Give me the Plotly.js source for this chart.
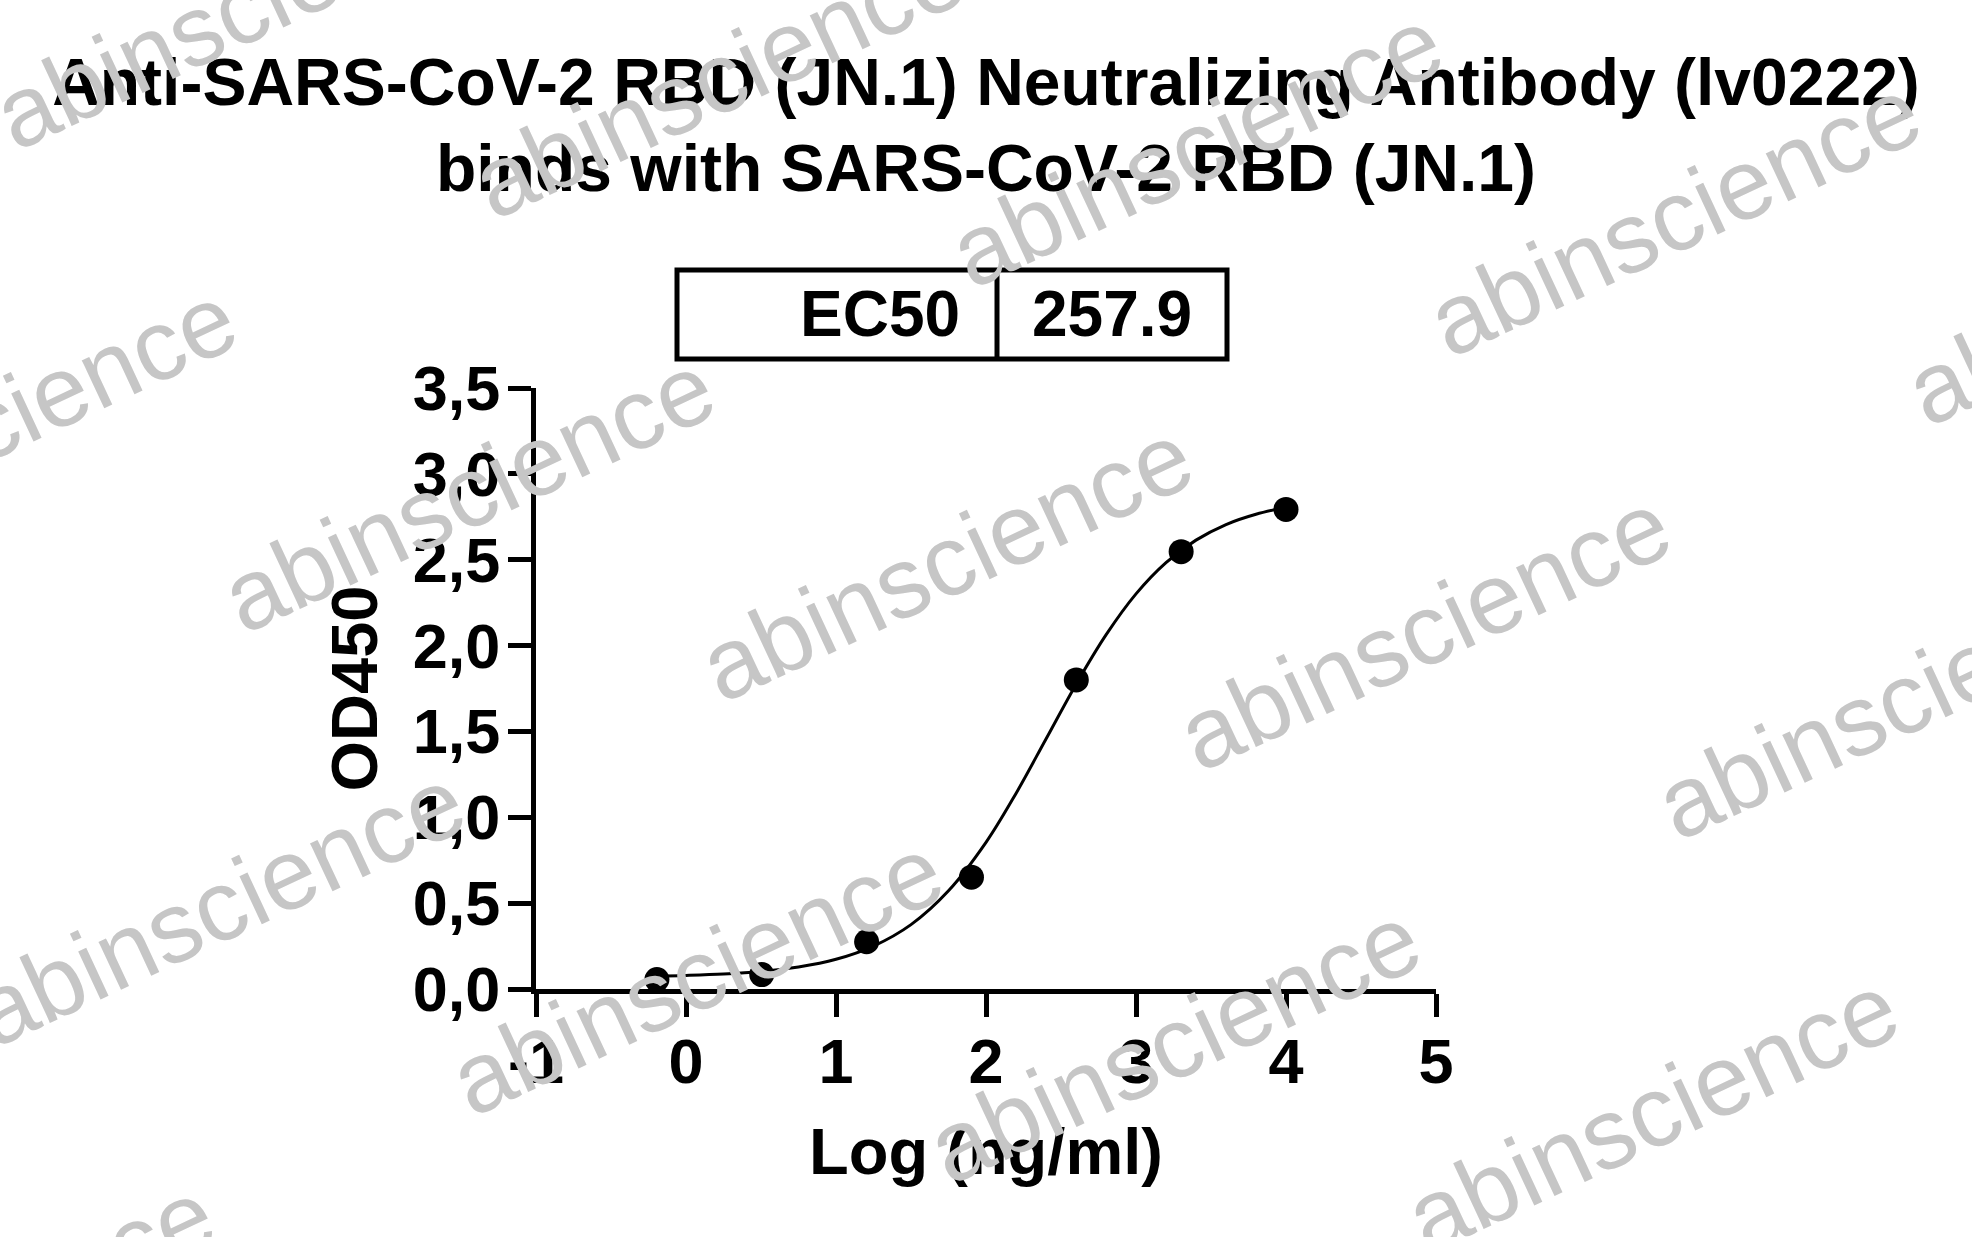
<!DOCTYPE html>
<html>
<head>
<meta charset="utf-8">
<script src="https://cdn.plot.ly/plotly-3.0.1.min.js"></script>
<style>html,body{margin:0;padding:0;background:#fff;}#chart{width:1972px;height:1237px;}</style>
</head>
<body>
<div id="chart"></div>
<script>
// ---- data ----
const logConc = [-0.194, 0.505, 1.204, 1.903, 2.602, 3.301, 4.0];
const od450 = [0.055, 0.084, 0.275, 0.651, 1.80, 2.547, 2.793];
const fitLogConc = [-0.2, 0, 0.25, 0.5, 0.75, 1.0, 1.25, 1.5, 1.75, 2.0, 2.2, 2.4, 2.6, 2.8, 3.0, 3.2, 3.4, 3.6, 3.8, 4.0];
const fitOd450 = [0.075, 0.079, 0.087, 0.102, 0.128, 0.173, 0.250, 0.375, 0.572, 0.854, 1.139, 1.456, 1.774, 2.062, 2.301, 2.483, 2.614, 2.705, 2.765, 2.805];
const xTickVals = [-1, 0, 1, 2, 3, 4, 5];
const xTickText = ["-1", "0", "1", "2", "3", "4", "5"];
const yTickVals = [0, 0.5, 1, 1.5, 2, 2.5, 3, 3.5];
const yTickText = ["0,0", "0,5", "1,0", "1,5", "2,0", "2,5", "3,0", "3,5"];
const ec50Label = "EC50";
const ec50Value = "257.9";
const chartTitle = "Anti-SARS-CoV-2 RBD (JN.1) Neutralizing Antibody (lv0222)<br>binds with SARS-CoV-2 RBD (JN.1)";
const watermarkText = "abinscience";

// ---- layout geometry (pixels) ----
const W = 1972, H = 1237;
const M = {l: 536, r: 536, t: 388, b: 247.5};
const plotW = W - M.l - M.r, plotH = H - M.t - M.b;
const px = x => (x - M.l) / plotW;
const py = y => (H - M.b - y) / plotH;

const FONT = 'Arial, "Liberation Sans", Helvetica, sans-serif';
const boldFont = (size) => ({family: FONT, size: size, color: '#000', weight: 'bold'});

// watermark lattice
const wmBase = [946, 561], wmU = [478, 69], wmV = [-250, 414];
const wmIdx = [[-2,0],[-1,0],[0,0],[1,0],[2,0],[-2,-1],[-1,-1],[0,-1],[1,-1],[2,-1],[-1,1],[0,1],[1,1],[2,1],[-1,2]];
const watermarks = wmIdx.map(([i, j]) => {
  const cx = wmBase[0] + i * wmU[0] + j * wmV[0];
  const cy = wmBase[1] + i * wmU[1] + j * wmV[1];
  return {
    text: watermarkText, xref: 'paper', yref: 'paper', x: px(cx), y: py(cy),
    xanchor: 'center', yanchor: 'middle', showarrow: false, textangle: -25,
    font: {family: FONT, size: 100, color: '#c6c6c6'}
  };
});

const box = {x0: 677, x1: 1227, y0: 270, y1: 359, div: 997};

const traces = [
  {
    type: 'scatter', mode: 'lines', x: fitLogConc, y: fitOd450,
    line: {color: '#000', width: 3, shape: 'spline', smoothing: 1},
    hoverinfo: 'skip', cliponaxis: false
  },
  {
    type: 'scatter', mode: 'markers', x: logConc, y: od450,
    marker: {color: '#000', size: 25, symbol: 'circle'},
    cliponaxis: false
  }
];

const layout = {
  width: W, height: H,
  paper_bgcolor: '#fff', plot_bgcolor: '#fff',
  margin: {l: M.l, r: M.r, t: M.t, b: M.b, autoexpand: false},
  showlegend: false,
  title: {
    text: chartTitle, font: boldFont(66),
    x: 0.5, xref: 'paper', xanchor: 'center',
    y: 1 - 105 / H, yref: 'container', yanchor: 'top'
  },
  xaxis: {
    range: [-1, 5], tickmode: 'array', tickvals: xTickVals, ticktext: xTickText,
    showline: true, linecolor: '#000', linewidth: 5,
    ticks: 'outside', ticklen: 23, tickwidth: 5, tickcolor: '#000',
    ticklabelstandoff: -10,
    showgrid: false, zeroline: false, tickfont: boldFont(63),
    title: {text: 'Log (ng/ml)', font: boldFont(65), standoff: 35}
  },
  yaxis: {
    range: [0, 3.5], tickmode: 'array', tickvals: yTickVals, ticktext: yTickText,
    showline: true, linecolor: '#000', linewidth: 5,
    ticks: 'outside', ticklen: 23, tickwidth: 5, tickcolor: '#000',
    ticklabelstandoff: -5,
    showgrid: false, zeroline: false, tickfont: boldFont(63),
    title: {text: 'OD450', font: boldFont(65), standoff: 16}
  },
  shapes: [
    {type: 'rect', xref: 'paper', yref: 'paper', x0: px(box.x0), x1: px(box.x1), y0: py(box.y1), y1: py(box.y0),
     line: {color: '#000', width: 5}, fillcolor: 'rgba(0,0,0,0)'},
    {type: 'line', xref: 'paper', yref: 'paper', x0: px(box.div), x1: px(box.div), y0: py(box.y1), y1: py(box.y0),
     line: {color: '#000', width: 5}}
  ],
  annotations: [
    {text: ec50Label, xref: 'paper', yref: 'paper', x: px(box.div - 35), y: py(314),
     xanchor: 'right', yanchor: 'middle', showarrow: false, font: boldFont(64)},
    {text: ec50Value, xref: 'paper', yref: 'paper', x: px((box.div + box.x1) / 2), y: py(314),
     xanchor: 'center', yanchor: 'middle', showarrow: false, font: boldFont(64)}
  ].concat(watermarks)
};

Plotly.newPlot('chart', traces, layout, {staticPlot: true, displayModeBar: false});
</script>
</body>
</html>
